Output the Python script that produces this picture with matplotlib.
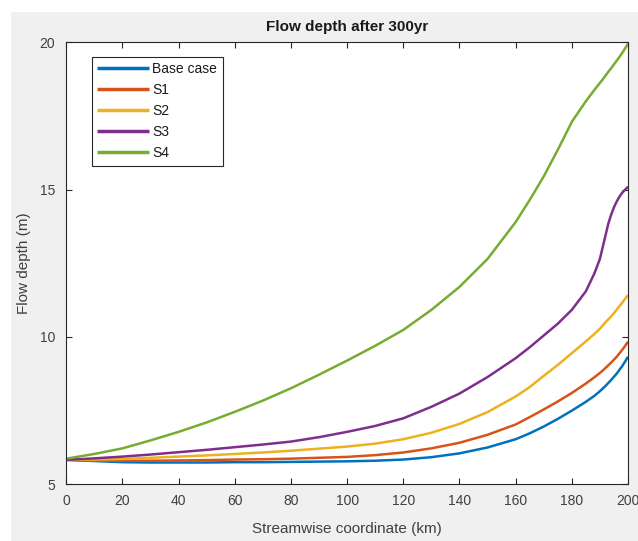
import matplotlib
matplotlib.use("Agg")
import matplotlib.pyplot as plt
from matplotlib.patches import Rectangle

plt.rcParams['font.family'] = ['Liberation Sans', 'DejaVu Sans']

x_km = [0, 10, 20, 30, 40, 50, 60, 70, 80, 90, 100, 110, 120, 130, 140, 150,
        160, 165, 170, 175, 180, 185, 188, 190, 191, 192, 193, 194, 195, 196,
        197, 198, 199, 200]

base_case = [5.83, 5.79, 5.75, 5.74, 5.74, 5.74, 5.75, 5.75, 5.76, 5.77, 5.78, 5.80,
             5.84, 5.92, 6.05, 6.25, 6.53, 6.73, 6.96, 7.22, 7.50, 7.80, 8.00, 8.16,
             8.25, 8.34, 8.44, 8.54, 8.65, 8.76, 8.89, 9.02, 9.17, 9.33]
s1 = [5.83, 5.80, 5.80, 5.80, 5.81, 5.82, 5.84, 5.85, 5.87, 5.90, 5.93, 5.99,
      6.08, 6.22, 6.41, 6.68, 7.03, 7.28, 7.54, 7.81, 8.10, 8.42, 8.63, 8.78,
      8.86, 8.95, 9.04, 9.13, 9.23, 9.33, 9.45, 9.57, 9.70, 9.84]
s2 = [5.83, 5.84, 5.86, 5.90, 5.94, 5.98, 6.03, 6.08, 6.14, 6.21, 6.28, 6.38,
      6.53, 6.75, 7.05, 7.45, 7.98, 8.30, 8.68, 9.05, 9.45, 9.85, 10.10, 10.28,
      10.39, 10.50, 10.60, 10.70, 10.81, 10.93, 11.05, 11.17, 11.30, 11.42]
s3 = [5.83, 5.88, 5.94, 6.01, 6.09, 6.17, 6.26, 6.35, 6.45, 6.60, 6.78, 6.98,
      7.24, 7.63, 8.08, 8.64, 9.28, 9.65, 10.05, 10.45, 10.92, 11.55, 12.15, 12.65,
      13.05, 13.45, 13.85, 14.15, 14.40, 14.60, 14.77, 14.90, 15.00, 15.10]
s4 = [5.87, 6.03, 6.22, 6.49, 6.78, 7.10, 7.46, 7.84, 8.26, 8.72, 9.20, 9.70,
      10.24, 10.92, 11.70, 12.65, 13.90, 14.65, 15.45, 16.35, 17.30, 18.00, 18.38, 18.62,
      18.74, 18.87, 19.00, 19.12, 19.25, 19.38, 19.51, 19.65, 19.80, 19.95]

labels = ['Base case', 'S1', 'S2', 'S3', 'S4']
colors = ['#0072BD', '#D95319', '#EDB120', '#7E2F8E', '#77AC30']
xticks = [0, 20, 40, 60, 80, 100, 120, 140, 160, 180, 200]
yticks = [5, 10, 15, 20]

W, H = 638, 541
fig = plt.figure(figsize=(W / 100, H / 100), dpi=100, facecolor='white')
fig.patches.append(Rectangle((11 / W, 0), 1, (H - 12) / H, transform=fig.transFigure,
                             facecolor='#F0F0F0', edgecolor='none', zorder=-10))

ax = fig.add_axes([66.3 / W, (H - 484.3) / H, (628 - 66.3) / W, (484.3 - 42.3) / H])
ax.set_facecolor('white')

for ys, lab, c in zip([base_case, s1, s2, s3, s4], labels, colors):
    ax.plot(x_km, ys, color=c, lw=1.8, label=lab, solid_capstyle='butt',
            solid_joinstyle='round')

ax.set_xlim(0, 200)
ax.set_ylim(5, 20)
ax.set_xticks(xticks)
ax.set_yticks(yticks)
gray = '#262626'
for sp in ax.spines.values():
    sp.set_color(gray)
    sp.set_linewidth(0.8)
ax.tick_params(direction='in', length=4, width=0.8, colors=gray, labelsize=10,
               top=True, right=True, labelcolor='#404040')
ax.tick_params(axis='x', pad=7)
ax.tick_params(axis='y', pad=8)

ax.set_title('Flow depth after 300yr', fontsize=11, fontweight='bold', color='#1a1a1a', pad=8)
ax.set_xlabel('Streamwise coordinate (km)', fontsize=11, color='#404040', labelpad=10)
ax.set_ylabel('Flow depth (m)', fontsize=11, color='#404040', labelpad=6)

leg = ax.legend(loc='upper left', bbox_to_anchor=(25.4 / 561.7, 1 - 14.4 / 442),
                borderaxespad=0, fontsize=10, handlelength=3.7, handletextpad=0.25,
                labelspacing=0.5, fancybox=False, framealpha=1, edgecolor=gray,
                borderpad=0.4)
leg.get_frame().set_linewidth(0.8)
for line in leg.get_lines():
    line.set_linewidth(2.5)
for t in leg.get_texts():
    t.set_color('#1a1a1a')

fig.savefig('out.png', dpi=100, facecolor=fig.get_facecolor())
